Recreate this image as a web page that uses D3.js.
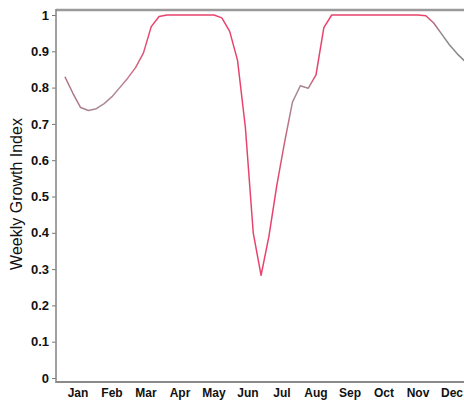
<!DOCTYPE html>
<html>
<head>
<meta charset="utf-8">
<script src="https://cdn.jsdelivr.net/npm/d3@7"></script>
<style>
  body { margin: 0; background: #fff; }
  svg { display: block; font-family: "Liberation Sans", Arial, sans-serif; }
</style>
</head>
<body>
<svg id="svg"></svg>
<script>
// weekly growth index, weeks 1..52
const weeks = d3.range(1, 53);
const growth = [
  0.83, 0.785, 0.745, 0.737, 0.742, 0.756, 0.775, 0.80, 0.826, 0.855,
  0.895, 0.968, 0.996, 1, 1, 1, 1, 1, 1, 1,
  0.992, 0.955, 0.875, 0.69, 0.40, 0.283, 0.39, 0.53, 0.65, 0.76,
  0.805, 0.798, 0.835, 0.965, 1, 1, 1, 1, 1, 1,
  1, 1, 1, 1, 1, 1, 0.998, 0.978, 0.948, 0.918,
  0.893, 0.872
];
const months = ["Jan", "Feb", "Mar", "Apr", "May", "Jun", "Jul", "Aug", "Sep", "Oct", "Nov", "Dec"];
const yTicks = [0, 0.1, 0.2, 0.3, 0.4, 0.5, 0.6, 0.7, 0.8, 0.9, 1];
// line colour changes along the year (week, colour)
const colorStopWeeks = [1, 5, 8, 12, 28, 30, 32, 33, 47, 49];
const colorStopCols = ["#b0707e", "#a88a94", "#b88a98", "#e8436c", "#e8436c", "#a88890", "#a88890", "#e8436c", "#e8436c", "#8a8a8a"];

function sketch() {
    let width = 464, height = 402;
    let svg = d3.select("#svg")
        .attr("width", width)
        .attr("height", height);

    let left = 56, top = 10, bottom = 382, right = 464;

    // weeks laid out so month centres fall under the labels
    let x = d3.scaleLinear().domain([0, 52]).range([61, 469]);
    let y = d3.scaleLinear().domain([0, 1]).range([378, 15]);
    let xm = d3.scaleLinear().domain([0, 12]).range([61, 469]);

    let defs = svg.append("defs");
    let grad = defs.append("linearGradient")
        .attr("id", "lineGrad")
        .attr("gradientUnits", "userSpaceOnUse")
        .attr("x1", x(0)).attr("x2", x(52))
        .attr("y1", 0).attr("y2", 0);
    grad.selectAll("stop")
        .data(colorStopWeeks)
        .enter().append("stop")
        .attr("offset", d => ((d - 0.5) / 52 * 100) + "%")
        .attr("stop-color", (d, i) => colorStopCols[i]);

    // frame
    svg.append("line")
        .attr("x1", left).attr("x2", right)
        .attr("y1", top).attr("y2", top)
        .attr("stroke", "#9a9a9a").attr("stroke-width", 2.5);
    svg.append("line")
        .attr("x1", left).attr("x2", right)
        .attr("y1", bottom).attr("y2", bottom)
        .attr("stroke", "#8a8a8a").attr("stroke-width", 2);

    // y axis
    let yAxis = d3.axisLeft(y)
        .tickValues(yTicks)
        .tickSize(4)
        .tickPadding(3)
        .tickFormat(d3.format("~g"));
    let ga = svg.append("g")
        .attr("transform", `translate(${left},0)`)
        .call(yAxis);
    ga.select(".domain").remove();
    ga.selectAll(".tick line").attr("stroke", "#777");
    ga.selectAll(".tick text")
        .attr("font-size", 13)
        .attr("font-weight", "bold")
        .attr("fill", "#111");
    svg.append("line")
        .attr("x1", left).attr("x2", left)
        .attr("y1", top - 1).attr("y2", bottom + 1)
        .attr("stroke", "#8a8a8a").attr("stroke-width", 1.6);

    // month labels
    svg.append("g").selectAll("text")
        .data(months)
        .enter().append("text")
        .attr("x", (d, i) => xm(i + 0.5))
        .attr("y", 397)
        .attr("text-anchor", "middle")
        .attr("font-size", 12)
        .attr("font-weight", "bold")
        .attr("fill", "#111")
        .text(d => d);

    svg.append("text")
        .attr("transform", "translate(22,194) rotate(-90)")
        .attr("text-anchor", "middle")
        .attr("font-size", 16)
        .attr("fill", "#111")
        .text("Weekly Growth Index");

    let line = d3.line()
        .x((d, i) => x(weeks[i] - 0.5))
        .y(d => y(d));

    svg.append("path")
        .datum(growth)
        .attr("d", line)
        .attr("fill", "none")
        .attr("stroke", "url(#lineGrad)")
        .attr("stroke-width", 1.5)
        .attr("stroke-linejoin", "round");
}
sketch();
</script>
</body>
</html>
